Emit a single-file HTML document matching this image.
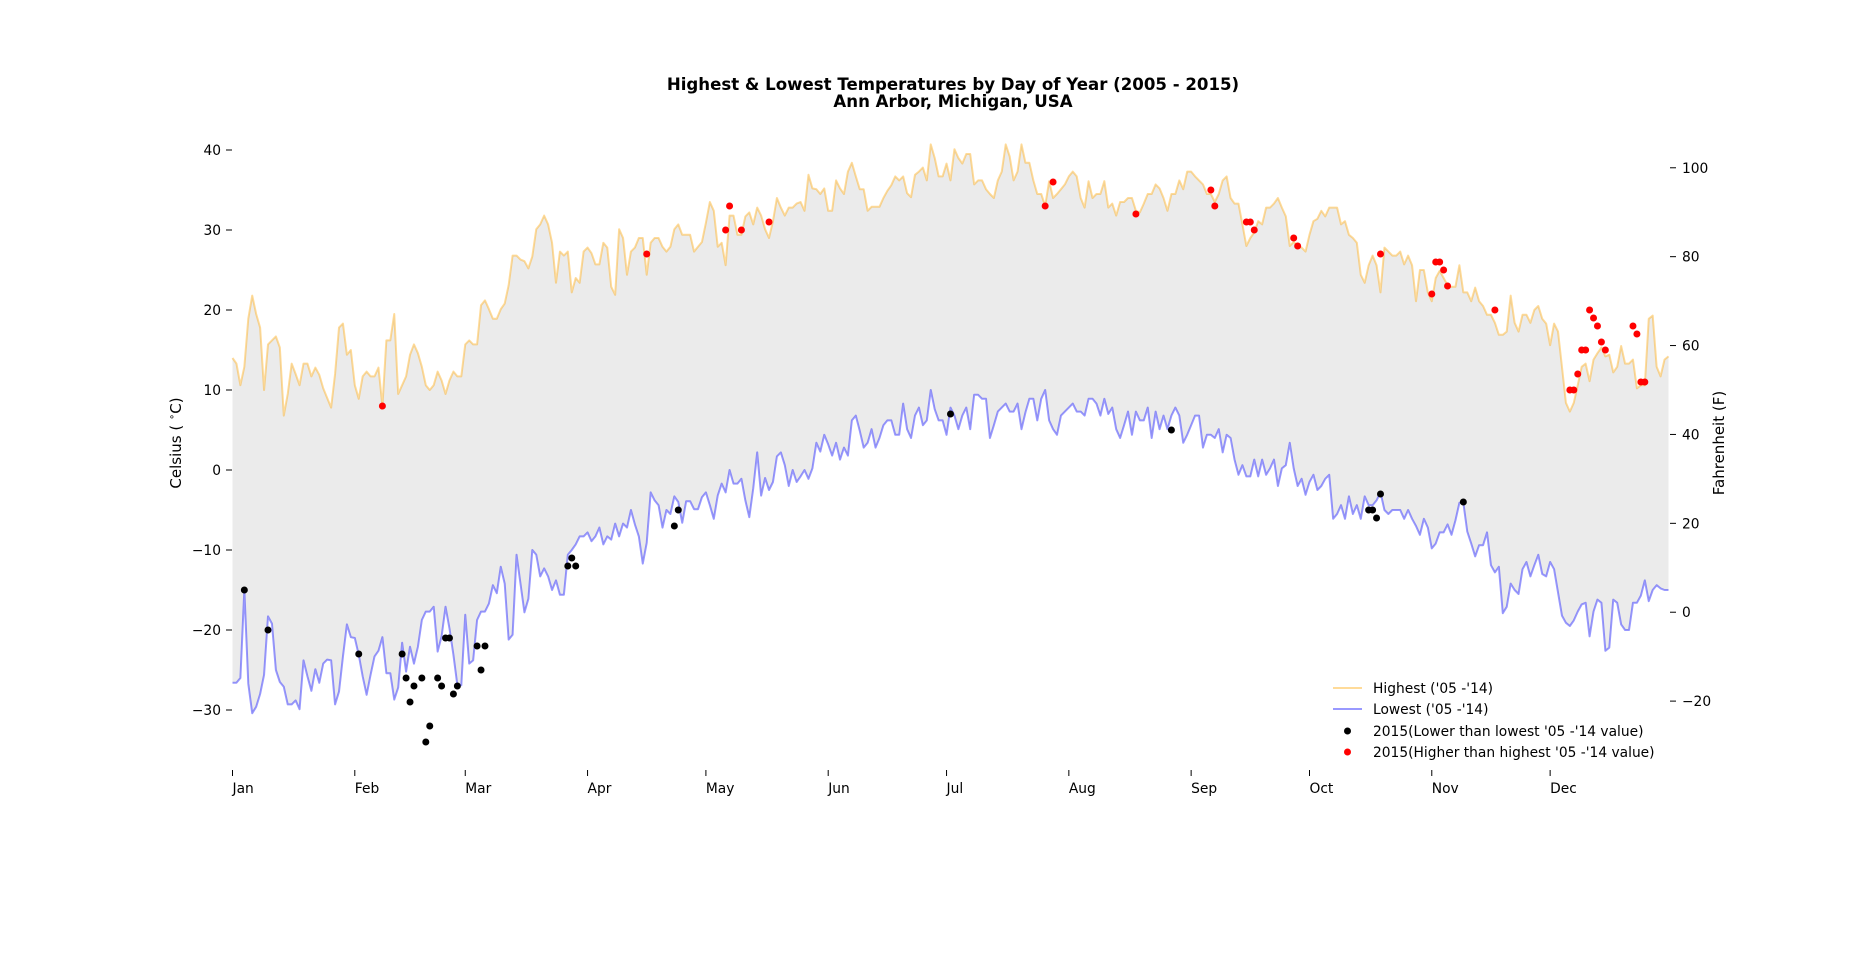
<!DOCTYPE html>
<html><head><meta charset="utf-8"><style>
html,body{margin:0;padding:0;background:#fff;}
svg{display:block;font-family:"DejaVu Sans","Liberation Sans",sans-serif;}
</style></head><body>
<svg id="chart" width="1853" height="964" viewBox="0 0 1853 964" xmlns="http://www.w3.org/2000/svg">
<rect width="1853" height="964" fill="#fff"/>
<g id="title" font-weight="bold" font-size="16.6" text-anchor="middle" fill="#000">
<text x="953" y="90">Highest &amp; Lowest Temperatures by Day of Year (2005 - 2015)</text>
<text x="953" y="107">Ann Arbor, Michigan, USA</text>
</g>
<g id="plot"></g>
<text transform="translate(181,443) rotate(-90)" text-anchor="middle" font-size="15">Celsius ( <tspan font-size="10" dy="-6">∘</tspan><tspan dy="6">C)</tspan></text>
<text transform="translate(1724,443) rotate(-90)" text-anchor="middle" font-size="15">Fahrenheit (F)</text>
<g id="legend" font-size="13.8">
<line x1="1333" y1="688" x2="1362" y2="688" stroke="rgba(255,165,0,0.4)" stroke-width="2"/>
<text x="1373" y="693">Highest ('05 -'14)</text>
<line x1="1333" y1="709" x2="1362" y2="709" stroke="rgba(0,0,255,0.4)" stroke-width="2"/>
<text x="1373" y="714">Lowest ('05 -'14)</text>
<circle cx="1347.5" cy="731" r="3.5" fill="#000"/>
<text x="1373" y="736">2015(Lower than lowest '05 -'14 value)</text>
<circle cx="1347.5" cy="752" r="3.5" fill="#f00"/>
<text x="1373" y="757">2015(Higher than highest '05 -'14 value)</text>
</g>
</svg>
<script>
const highs = [14,13.3,10.6,12.9,18.9,21.8,19.5,17.8,10,15.7,16.2,16.7,15.3,6.8,9.5,13.3,12,10.6,13.3,13.3,11.7,12.8,11.9,10.2,9,7.8,12,17.8,18.3,14.4,15,10.6,8.9,11.7,12.3,11.7,11.7,12.8,8,16.2,16.2,19.5,9.5,10.6,11.7,14.4,15.7,14.6,12.9,10.6,10,10.6,12.3,11.2,9.5,11.2,12.3,11.7,11.7,15.7,16.2,15.7,15.7,20.6,21.2,20.1,18.9,18.9,
20.1,20.8,23.1,26.8,26.8,26.3,26.1,25.2,26.7,30.1,30.7,31.8,30.7,28.4,23.4,27.3,26.8,27.3,22.2,24,23.4,27.3,27.8,27.1,25.7,25.7,28.4,27.8,22.9,21.9,30.1,29,24.4,27.3,27.8,29,29,24.4,28.4,29,29,27.9,27.3,27.9,30.1,30.7,29.4,29.4,29.4,27.3,27.9,28.5,30.9,33.5,32.4,27.9,28.4,25.6,31.8,31.8,29.4,29.4,31.7,32.2,30.7,32.8,31.8,30.1,29,31.1,34,32.8,31.8,32.8,32.8,33.3,
33.5,32.4,36.9,35.2,35.1,34.5,35.2,32.4,32.4,36.2,35.2,34.5,37.3,38.4,36.7,35.1,35.1,32.4,32.9,32.9,32.9,34,34.9,35.6,36.7,36.2,36.7,34.6,34.1,36.9,37.3,37.8,36.2,40.7,39,36.7,36.7,38.3,36.2,40.1,39,38.3,39.5,39.5,35.7,36.2,36.2,35.1,34.5,34,36.2,37.3,40.7,39.2,36.2,37.3,40.7,38.4,38.4,36.2,34.5,34.5,33,36.1,34,34.5,35.1,35.7,36.7,37.3,36.7,34,32.8,36.1,34,34.5,34.5,36.1,32.8,
33.3,31.8,33.5,33.5,34,34,32.4,32.2,33.3,34.5,34.5,35.7,35.2,34,32.4,34.5,34.5,36.2,35.1,37.3,37.3,36.7,36.2,35.7,34.5,34.5,33.5,34.5,36.2,36.7,34,33.3,33.3,30.7,28,29,29.7,31.1,30.7,32.8,32.8,33.3,34,32.8,31.7,28,28.5,28,27.8,27.3,29.4,31.1,31.4,32.4,31.7,32.8,32.8,32.8,30.7,31.1,29.4,29,28.4,24.4,23.4,25.6,26.8,25.6,22.2,27.8,27.3,26.8,26.8,27.3,25.7,26.8,25.6,
21.1,25,25,22.2,21.1,24,24.9,24,23.1,22.9,22.9,25.6,22.2,22.2,21.1,22.8,21.1,20.5,19.4,19.4,18.4,16.9,16.9,17.3,21.8,18.4,17.3,19.4,19.4,18.4,20,20.5,18.9,18.3,15.6,18.3,17.3,12.9,8.4,7.3,8.4,10.6,12.9,13.3,11.1,13.8,14.6,15.3,14.2,14.4,12.2,12.9,15.5,13.3,13.3,13.8,10.2,10.6,10.6,18.9,19.3,12.9,11.7,13.8,14.2];
const lows = [-26.6,-26.6,-26,-15,-26.7,-30.4,-29.6,-28,-25.6,-18.3,-19.2,-25,-26.5,-27.1,-29.3,-29.3,-28.8,-29.9,-23.8,-25.8,-27.6,-24.9,-26.6,-24.2,-23.7,-23.8,-29.3,-27.7,-23.3,-19.3,-20.9,-21,-23.1,-25.8,-28.1,-25.6,-23.3,-22.6,-20.9,-25.4,-25.4,-28.7,-27.2,-21.6,-25.2,-22.1,-24.2,-22.1,-18.75,-17.7,-17.7,-17.1,-22.7,-20.8,-17.1,-19.8,-23.1,-26.9,-26.9,-18.1,-24.2,-23.8,-18.75,-17.7,-17.7,-16.7,-14.4,-15.4,
-12.1,-14.2,-21.2,-20.6,-10.6,-14.2,-17.8,-16.1,-10,-10.6,-13.3,-12.3,-13.3,-15,-13.8,-15.6,-15.6,-10.6,-10,-9.3,-8.3,-8.3,-7.8,-8.9,-8.3,-7.2,-9.3,-8.3,-8.7,-6.7,-8.3,-6.7,-7.2,-5,-6.8,-8.3,-11.7,-9.1,-2.8,-3.8,-4.4,-7.2,-5,-5.5,-3.3,-4,-6.6,-3.9,-3.9,-4.9,-4.9,-3.4,-2.8,-4.4,-6.1,-3.2,-1.7,-2.8,0,-1.7,-1.7,-1.1,-3.8,-5.9,-2.3,2.2,-3.2,-1,-2.5,-1.5,1.7,2.2,0.6,-2,0,-1.5,
-0.8,0,-1.1,0.2,3.4,2.3,4.4,3.2,1.8,3.4,1.3,2.8,1.8,6.2,6.8,4.9,2.8,3.4,5.1,2.8,4,5.6,6.2,6.2,4.4,4.4,8.3,5.1,4,6.8,7.8,5.6,6.2,10,7.6,6.2,6.2,4.4,7.8,6.8,5.1,6.8,7.8,5.1,9.4,9.4,8.9,8.9,4,5.6,7.3,7.8,8.3,7.3,7.3,8.3,5.1,7.2,8.9,8.9,6.2,8.9,10,6.2,5.1,4.4,6.8,7.3,7.8,8.3,7.3,7.3,6.8,8.9,8.9,8.3,6.8,8.9,7,
7.8,5.1,4,5.6,7.3,4.4,7.3,6.2,6.2,7.8,4,7.3,5.1,6.8,5.1,6.8,7.8,6.8,3.4,4.4,5.6,6.8,6.8,2.8,4.4,4.4,4,5.1,2.2,4.4,4,1.3,-0.6,0.6,-0.8,-0.8,1.3,-0.8,1.3,-0.6,0.2,1.3,-2,0.2,0.6,3.4,0.2,-2,-1.1,-3.1,-1.5,-0.6,-2.5,-2,-1.1,-0.6,-6.1,-5.5,-4.4,-6.1,-3.3,-5.5,-4.4,-6.1,-3.3,-4.4,-4.4,-3.8,-2.8,-5,-5.5,-5,-5,-5,-6.1,-5,-6.1,
-7,-8.1,-6.1,-7.2,-9.8,-9.2,-7.8,-7.8,-6.8,-8.1,-6.3,-4.1,-4.1,-7.7,-9.2,-10.8,-9.4,-9.4,-7.8,-11.9,-12.8,-12.1,-17.9,-17.1,-14.2,-15,-15.5,-12.4,-11.5,-13.3,-11.9,-10.6,-13,-13.3,-11.5,-12.4,-15.3,-18.2,-19.1,-19.5,-18.8,-17.7,-16.8,-16.6,-20.8,-17.7,-16.2,-16.6,-22.6,-22.2,-16.2,-16.6,-19.3,-20,-20,-16.6,-16.6,-15.7,-13.8,-16.4,-15,-14.4,-14.8,-15,-15];
const lowRecordDays = [3,9,32,43,44,45,46,48,49,50,52,53,54,55,56,57,62,63,64,85,86,87,112,113,182,238,288,289,290,291,312];
const lowRecordVals = [-15,-20,-23,-23,-26,-29,-27,-26,-34,-32,-26,-27,-21,-21,-28,-27,-22,-25,-22,-12,-11,-12,-7,-5,7,5,-5,-5,-6,-3,-4];
const highRecordDays = [38,105,125,126,129,136,206,208,229,248,249,257,258,259,269,270,291,304,305,306,307,308,320,339,340,341,342,343,344,345,346,347,348,355,356,357,358];
const highRecordVals = [8,27,30,33,30,31,33,36,32,35,33,31,31,30,29,28,27,22,26,26,25,23,20,10,10,12,15,15,20,19,18,16,15,18,17,11,11];
const monthLabels = ["Jan","Feb","Mar","Apr","May","Jun","Jul","Aug","Sep","Oct","Nov","Dec"];
const monthStartDays = [0,31,59,90,120,151,181,212,243,273,304,334];
const celsiusTicks = [40,30,20,10,0,-10,-20,-30];
const fahrenheitTicks = [100,80,60,40,20,0,-20];

const NS = "http://www.w3.org/2000/svg";
const xS = d => 232.5 + 3.945 * d;
const yS = c => 470 - 8 * c;
const yF = f => yS((f - 32) * 5 / 9);
const plot = document.getElementById('plot');
function mk(tag, attrs, parent) {
  const e = document.createElementNS(NS, tag);
  for (const k in attrs) e.setAttribute(k, attrs[k]);
  (parent || plot).appendChild(e);
  return e;
}
const fmt = v => (v < 0 ? "\u2212" + Math.abs(v) : "" + v);

let fp = highs.map((v, i) => (i ? "L" : "M") + xS(i).toFixed(2) + "," + yS(v).toFixed(2)).join("");
for (let i = lows.length - 1; i >= 0; i--) fp += "L" + xS(i).toFixed(2) + "," + yS(lows[i]).toFixed(2);
const fill = mk('path', {d: fp + "Z", fill: "#ebebeb"});



const hp = mk('path', {d: highs.map((v, i) => (i ? "L" : "M") + xS(i).toFixed(2) + "," + yS(v).toFixed(2)).join(""), fill: "none", stroke: "rgba(255,165,0,0.4)", "stroke-width": 2, "stroke-linejoin": "round"});


const lp = mk('path', {d: lows.map((v, i) => (i ? "L" : "M") + xS(i).toFixed(2) + "," + yS(v).toFixed(2)).join(""), fill: "none", stroke: "rgba(0,0,255,0.4)", "stroke-width": 2, "stroke-linejoin": "round"});



lowRecordDays.forEach((d, i) => {
  const c = mk('circle', {cx: xS(d), cy: yS(lowRecordVals[i]), r: 3.5, fill: "#000"});
  
  
});
highRecordDays.forEach((d, i) => {
  const c = mk('circle', {cx: xS(d), cy: yS(highRecordVals[i]), r: 3.5, fill: "#f00"});
  
  
});

monthStartDays.forEach((d, i) => {
  const x = xS(d);
  const t = mk('line', {x1: x, y1: 770, x2: x, y2: 776, stroke: "#000", "stroke-width": 1});
  
  
  const l = mk('text', {x: x, y: 793, "font-size": 13.8});
  l.textContent = monthLabels[i];
  
  
});
celsiusTicks.forEach(v => {
  const y = yS(v);
  const t = mk('line', {x1: 226, y1: y, x2: 232, y2: y, stroke: "#000", "stroke-width": 1});
  
  
  const l = mk('text', {x: 221, y: y + 5, "font-size": 13.8, "text-anchor": "end"});
  l.textContent = fmt(v);
  
  
});
fahrenheitTicks.forEach(v => {
  const y = yF(v);
  const t = mk('line', {x1: 1670, y1: y, x2: 1676, y2: y, stroke: "#000", "stroke-width": 1});
  
  
  const l = mk('text', {x: 1682, y: y + 5, "font-size": 13.8});
  l.textContent = fmt(v);
  
  
});
</script>
</body></html>
